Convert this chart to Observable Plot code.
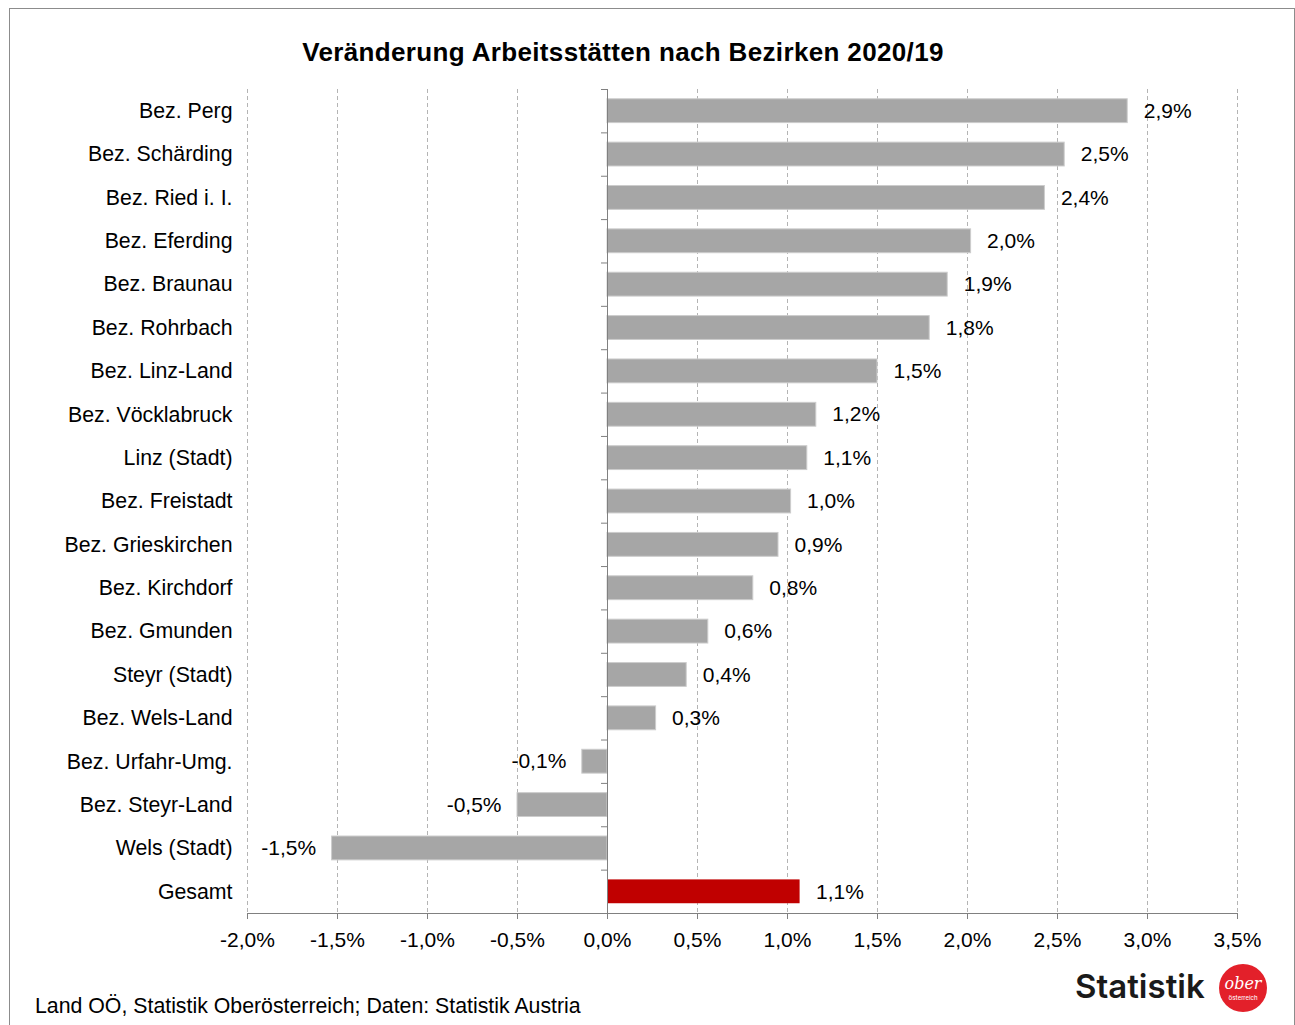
<!DOCTYPE html>
<html>
<head>
<meta charset="utf-8">
<script src="https://cdn.jsdelivr.net/npm/d3@7"></script>
<script src="https://cdn.jsdelivr.net/npm/@observablehq/plot@0.6"></script>
<style>
  html, body { margin: 0; padding: 0; background: #fff; }
  #page { position: relative; width: 1295px; height: 1025px; overflow: hidden; background: #fff; font-family: "Liberation Sans", Arial, sans-serif; }
  #frame { position: absolute; left: 9px; top: 8px; width: 1286px; height: 1040px; border: 1px solid #8c8c8c; box-sizing: border-box; }
  #title { position: absolute; left: 0; top: 37px; width: 1246px; text-align: center; font-weight: bold; font-size: 26px; letter-spacing: 0.35px; color: #000; }
  #chart { position: absolute; left: 0; top: 0; }
  #caption { position: absolute; left: 35px; top: 994px; font-size: 21.3px; color: #000; }
  #logo { position: absolute; left: 1060px; top: 960px; }
</style>
</head>
<body>
<div id="page">
  <div id="frame"></div>
  <div id="chart"></div>
  <div id="title">Veränderung Arbeitsstätten nach Bezirken 2020/19</div>
  <div id="caption">Land OÖ, Statistik Oberösterreich; Daten: Statistik Austria</div>
  <svg id="logo" width="230" height="60">
    <text x="15" y="38" font-family="Inter, Lato, sans-serif" font-weight="600" font-size="33" fill="#1a1a1a">Statistik</text>
    <circle cx="183" cy="28" r="24" fill="#e3202a"></circle>
    <text x="183" y="29" text-anchor="middle" font-family="DejaVu Serif, serif" font-style="italic" font-size="16" fill="#fff">ober</text>
    <text x="183" y="40" text-anchor="middle" font-family="Roboto, sans-serif" font-size="6.5" fill="#fff">österreich</text>
  </svg>
</div>
<script>
const categories = ["Bez. Perg","Bez. Schärding","Bez. Ried i. I.","Bez. Eferding","Bez. Braunau","Bez. Rohrbach","Bez. Linz-Land","Bez. Vöcklabruck","Linz (Stadt)","Bez. Freistadt","Bez. Grieskirchen","Bez. Kirchdorf","Bez. Gmunden","Steyr (Stadt)","Bez. Wels-Land","Bez. Urfahr-Umg.","Bez. Steyr-Land","Wels (Stadt)","Gesamt"];
const values = [2.89,2.54,2.43,2.02,1.89,1.79,1.50,1.16,1.11,1.02,0.95,0.81,0.56,0.44,0.27,-0.14,-0.50,-1.53,1.07];
const valueLabels = ["2,9%","2,5%","2,4%","2,0%","1,9%","1,8%","1,5%","1,2%","1,1%","1,0%","0,9%","0,8%","0,6%","0,4%","0,3%","-0,1%","-0,5%","-1,5%","1,1%"];
const xTicks = [-2,-1.5,-1,-0.5,0,0.5,1,1.5,2,2.5,3,3.5];
const totalCategory = "Gesamt";

const data = categories.map((c, i) => ({cat: c, value: values[i], label: valueLabels[i]}));
const fmt = d => d.toFixed(1).replace(".", ",") + "%";

const marginTop = 89, marginBottom = 47, height = 960;
const step = (height - marginTop - marginBottom) / categories.length;
const xPerPx = 5.5 / (1295 - 247 - 58);

const chart = Plot.plot({
  width: 1295,
  height,
  marginTop,
  marginBottom,
  marginLeft: 247,
  marginRight: 58,
  style: {fontFamily: "'Liberation Sans', Arial, sans-serif", fontSize: "21px", color: "#000", background: "transparent", overflow: "visible"},
  x: {domain: [-2, 3.5], label: null},
  y: {domain: categories, paddingInner: 0.45, paddingOuter: 0.225, align: 0.5, round: false, label: null},
  marks: [
    Plot.ruleX(xTicks.filter(d => d !== 0), {stroke: "#b4b4b4", strokeDasharray: "4,3", strokeWidth: 1}),
    Plot.barX(data.filter(d => d.cat !== totalCategory), {x: "value", y: "cat", fill: "#a6a6a6", stroke: "#cccccc", strokeWidth: 1}),
    Plot.barX(data.filter(d => d.cat === totalCategory), {x: "value", y: "cat", fill: "#c00000"}),
    Plot.ruleX([0], {stroke: "#808080", strokeWidth: 1}),
    Plot.ruleY(categories, {y: d => d, x1: -6 * xPerPx, x2: 0, dy: -step / 2, stroke: "#808080"}),
    Plot.ruleY([totalCategory], {y: d => d, x1: -2, x2: 3.5, dy: step / 2, stroke: "#808080"}),
    Plot.text(data.filter(d => d.value >= 0), {x: "value", y: "cat", text: "label", textAnchor: "start", dx: 16, fontSize: 21, fill: "#000"}),
    Plot.text(data.filter(d => d.value < 0), {x: "value", y: "cat", text: "label", textAnchor: "end", dx: -16, fontSize: 21, fill: "#000"}),
    Plot.axisX({ticks: xTicks, tickFormat: fmt, tickSize: 6, tickPadding: 13, stroke: "#808080", fill: "#000", fontSize: 21, label: null}),
    Plot.axisY({tickSize: 0, tickPadding: 15, fill: "#000", fontSize: 21.3, label: null})
  ]
});
document.getElementById("chart").appendChild(chart);
</script>
</body>
</html>
